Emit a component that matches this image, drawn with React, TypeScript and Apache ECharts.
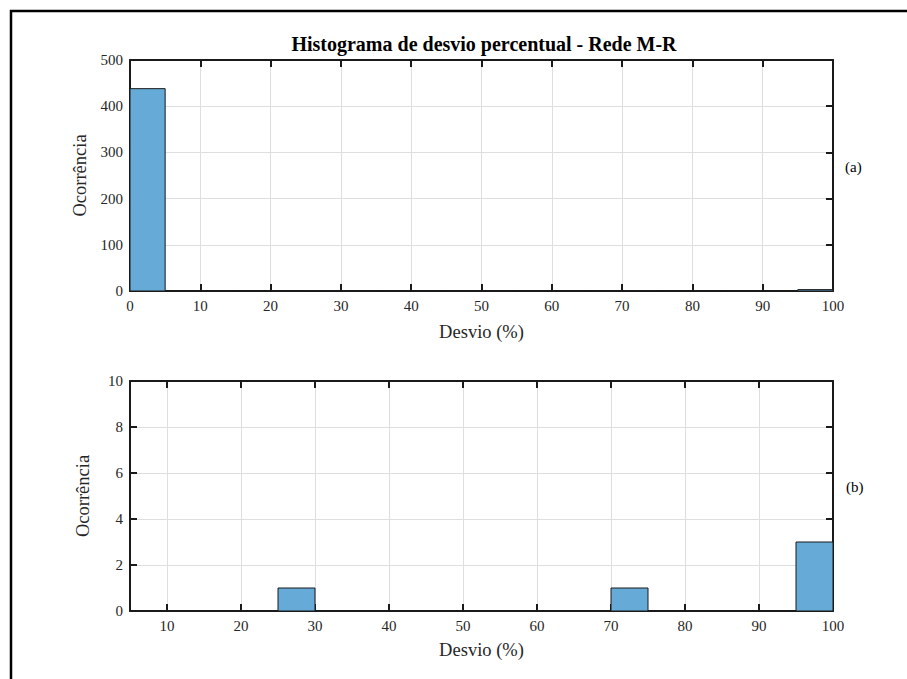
import React, { useEffect, useRef } from "react";
import * as echarts from "echarts";

const titleText = "Histograma de desvio percentual - Rede M-R";
const yName = "Ocorrência";
const xName = "Desvio (%)";
const panelLabels = ["(a)", "(b)"];

// Panel (a): bins of 5% from 0 to 100
const binEdgesA = [0, 5, 10, 15, 20, 25, 30, 35, 40, 45, 50, 55, 60, 65, 70, 75, 80, 85, 90, 95, 100];
const countsA = [438, 0, 0, 0, 0, 1, 0, 0, 0, 0, 0, 0, 0, 0, 1, 0, 0, 0, 0, 3];

// Panel (b): bins of 5% from 5 to 100
const binEdgesB = [5, 10, 15, 20, 25, 30, 35, 40, 45, 50, 55, 60, 65, 70, 75, 80, 85, 90, 95, 100];
const countsB = [0, 0, 0, 0, 1, 0, 0, 0, 0, 0, 0, 0, 0, 1, 0, 0, 0, 0, 3];

const xTicksB = [10, 20, 30, 40, 50, 60, 70, 80, 90, 100];

const FONT = "'Liberation Serif', 'Times New Roman', serif";
const AX = "#1a1a1a";
const GRIDC = "#dedede";
const BAR = "#66aad7";

function binsData(edges: number[], counts: number[]) {
  return counts.map((c, i) => [edges[i], edges[i + 1], c]);
}

const mkLine = () => ({ show: true, onZero: false, lineStyle: { color: AX, width: 2 } });
const mkTick = (custom?: number[]) => {
  const t: any = { show: true, inside: true, length: 7, lineStyle: { color: AX, width: 2 } };
  if (custom) t.customValues = custom;
  return t;
};
const mkSplit = () => ({ show: true, lineStyle: { color: GRIDC, width: 1 } });
const mkLabel = (margin: number, custom?: number[]) => {
  const l: any = { show: true, fontFamily: FONT, fontSize: 15, color: "#262626", margin };
  if (custom) l.customValues = custom;
  return l;
};
const mkName = () => ({ fontFamily: FONT, fontSize: 18.5, color: "#262626" });

export default function App() {
  const ref = useRef<HTMLDivElement>(null);
  useEffect(() => {
    if (!ref.current) return;
    const chart = echarts.init(ref.current, null, { renderer: "svg" });

    const renderItem = (params: any, api: any) => {
      const x0 = api.value(0);
      const x1 = api.value(1);
      const c = api.value(2);
      const p0 = api.coord([x0, c]);
      const p1 = api.coord([x1, 0]);
      return {
        type: "rect",
        shape: { x: p0[0], y: p0[1], width: p1[0] - p0[0], height: p1[1] - p0[1] },
        style: { fill: BAR, stroke: "#1a1a1a", lineWidth: 1 },
      };
    };

    const option: any = {
      animation: false,
      backgroundColor: "#ffffff",
      title: {
        text: titleText,
        left: 479,
        textAlign: "center",
        top: 29,
        textStyle: { fontFamily: FONT, fontSize: 20, fontWeight: "bold", color: "#000" },
      },
      graphic: [
        {
          type: "rect",
          shape: { x: 11, y: 11, width: 1200, height: 1200 },
          style: { fill: "none", stroke: "#000", lineWidth: 2.5 },
          silent: true,
        },
        {
          type: "text",
          x: 845,
          y: 167,
          style: { text: panelLabels[0], font: "15px 'Liberation Serif', serif", fill: "#000", verticalAlign: "middle" },
        },
        {
          type: "text",
          x: 846,
          y: 487,
          style: { text: panelLabels[1], font: "15px 'Liberation Serif', serif", fill: "#000", verticalAlign: "middle" },
        },
      ],
      grid: [
        { left: 130, top: 60, width: 703, height: 231, containLabel: false },
        { left: 130, top: 381, width: 703, height: 230, containLabel: false },
      ],
      xAxis: [
        {
          gridIndex: 0, type: "value", position: "bottom", min: 0, max: 100, interval: 10,
          axisLine: mkLine(), axisTick: mkTick(), splitLine: mkSplit(),
          axisLabel: mkLabel(7),
          name: xName, nameLocation: "middle", nameGap: 31, nameTextStyle: mkName(),
        },
        {
          gridIndex: 0, type: "value", position: "top", min: 0, max: 100, interval: 10,
          axisLine: mkLine(), axisTick: mkTick(), splitLine: { show: false }, axisLabel: { show: false },
        },
        {
          gridIndex: 1, type: "value", position: "bottom", min: 5, max: 100,
          axisLine: mkLine(), axisTick: mkTick(xTicksB), splitLine: mkSplit(),
          axisLabel: mkLabel(7, xTicksB),
          name: xName, nameLocation: "middle", nameGap: 29, nameTextStyle: mkName(),
        },
        {
          gridIndex: 1, type: "value", position: "top", min: 5, max: 100,
          axisLine: mkLine(), axisTick: mkTick(xTicksB),
          splitLine: { show: false }, axisLabel: { show: false, customValues: xTicksB },
        },
      ],
      yAxis: [
        {
          gridIndex: 0, type: "value", position: "left", min: 0, max: 500, interval: 100,
          axisLine: mkLine(), axisTick: mkTick(), splitLine: mkSplit(),
          axisLabel: mkLabel(7),
          name: yName, nameLocation: "middle", nameGap: 38, nameTextStyle: mkName(),
        },
        {
          gridIndex: 0, type: "value", position: "right", min: 0, max: 500, interval: 100,
          axisLine: mkLine(), axisTick: mkTick(), splitLine: { show: false }, axisLabel: { show: false },
        },
        {
          gridIndex: 1, type: "value", position: "left", min: 0, max: 10, interval: 2,
          axisLine: mkLine(), axisTick: mkTick(), splitLine: mkSplit(),
          axisLabel: mkLabel(7),
          name: yName, nameLocation: "middle", nameGap: 38, nameTextStyle: mkName(),
        },
        {
          gridIndex: 1, type: "value", position: "right", min: 0, max: 10, interval: 2,
          axisLine: mkLine(), axisTick: mkTick(), splitLine: { show: false }, axisLabel: { show: false },
        },
      ],
      series: [
        {
          type: "custom",
          xAxisIndex: 0,
          yAxisIndex: 0,
          renderItem,
          encode: { x: [0, 1], y: 2 },
          data: binsData(binEdgesA, countsA),
          z: 1,
        },
        {
          type: "custom",
          xAxisIndex: 2,
          yAxisIndex: 2,
          renderItem,
          encode: { x: [0, 1], y: 2 },
          data: binsData(binEdgesB, countsB),
          z: 1,
        },
      ],
    };
    chart.setOption(option);
    return () => chart.dispose();
  }, []);

  return (
    <div
      ref={ref}
      style={{ position: "absolute", left: 0, top: 0, width: 907, height: 679 }}
    />
  );
}
